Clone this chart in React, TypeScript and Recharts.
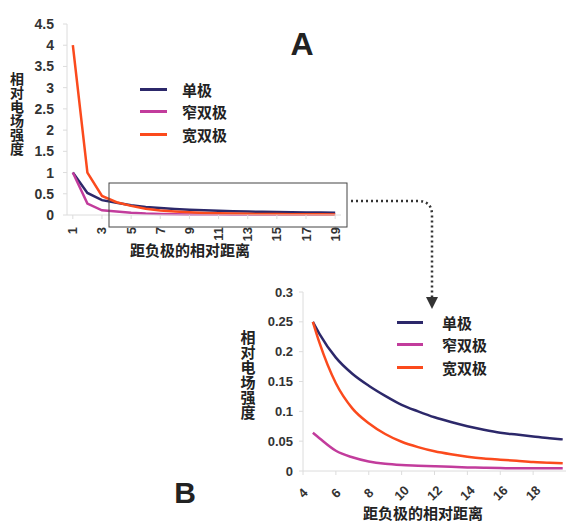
import { Legend, Line, LineChart, XAxis, YAxis } from "recharts";

const LATIN = '"Liberation Sans", Arial, sans-serif';
const CJK = '"Noto Sans CJK SC", "Noto Sans CJK JP", sans-serif';

const seriesKeys = ["unipolar", "narrow", "wide"];
const seriesNames = ["单极", "窄双极", "宽双极"];
const seriesColors = ["#2c286a", "#c23c9c", "#fb4a1d"];

const xTitle = "距负极的相对距离";
const yTitle = "相对电场强度";

// panel A: whole range
const distA = [1, 2, 3, 4, 5, 6, 7, 8, 9, 10, 11, 12, 13, 14, 15, 16, 17, 18, 19];
const unipolarA = [1.0, 0.52, 0.35, 0.29, 0.23, 0.19, 0.163, 0.143, 0.126, 0.111, 0.1, 0.09, 0.082, 0.075, 0.069, 0.064, 0.061, 0.058, 0.055];
const narrowA = [1.0, 0.27, 0.11, 0.085, 0.055, 0.034, 0.023, 0.016, 0.012, 0.01, 0.009, 0.008, 0.007, 0.006, 0.0055, 0.005, 0.0045, 0.0045, 0.0045];
const wideA = [4.0, 1.0, 0.45, 0.3, 0.215, 0.147, 0.105, 0.08, 0.062, 0.049, 0.04, 0.033, 0.028, 0.024, 0.021, 0.019, 0.017, 0.015, 0.014];
const xTicksA = [1, 3, 5, 7, 9, 11, 13, 15, 17, 19];
const yTicksA = [0, 0.5, 1, 1.5, 2, 2.5, 3, 3.5, 4, 4.5];

// panel B: zoomed tail
const distB = [4.6, 5, 6, 7, 8, 9, 10, 11, 12, 13, 14, 15, 16, 17, 18, 19, 19.8];
const unipolarB = [0.25, 0.23, 0.19, 0.163, 0.143, 0.126, 0.111, 0.1, 0.09, 0.082, 0.075, 0.069, 0.064, 0.061, 0.058, 0.055, 0.053];
const narrowB = [0.064, 0.055, 0.034, 0.023, 0.016, 0.012, 0.01, 0.009, 0.008, 0.007, 0.006, 0.0055, 0.005, 0.0045, 0.0045, 0.0045, 0.0045];
const wideB = [0.25, 0.215, 0.147, 0.105, 0.08, 0.062, 0.049, 0.04, 0.033, 0.028, 0.024, 0.021, 0.019, 0.017, 0.015, 0.014, 0.013];
const xTicksB = [4, 6, 8, 10, 12, 14, 16, 18];
const yTicksB = [0, 0.05, 0.1, 0.15, 0.2, 0.25, 0.3];

function rowsOf(dist: number[], cols: number[][]) {
  return dist.map((d, i) => ({
    dist: d,
    unipolar: cols[0][i],
    narrow: cols[1][i],
    wide: cols[2][i],
  }));
}

const rowsA = rowsOf(distA, [unipolarA, narrowA, wideA]);
const rowsB = rowsOf(distB, [unipolarB, narrowB, wideB]);

function TickUp({ x, y, payload }: any) {
  const ty = y + 6;
  return (
    <text
      x={x}
      y={ty}
      transform={`rotate(-90 ${x} ${ty})`}
      textAnchor="end"
      dominantBaseline="central"
      fontSize={13}
      fontWeight="bold"
      fontFamily={LATIN}
      fill="#333"
    >
      {payload.value}
    </text>
  );
}

function TickSlant({ x, y, payload }: any) {
  const ty = y + 16;
  return (
    <text
      x={x}
      y={ty}
      transform={`rotate(-45 ${x} ${ty})`}
      textAnchor="middle"
      dominantBaseline="central"
      fontSize={13}
      fontWeight="bold"
      fontFamily={LATIN}
      fill="#333"
    >
      {payload.value}
    </text>
  );
}

// upright CJK characters stacked top to bottom
function StackedTitle({ px, py, size }: { px: number; py: number; size: number }) {
  return (
    <text
      x={px}
      y={py}
      textAnchor="start"
      fontSize={size}
      fontWeight="bold"
      fontFamily={CJK}
      fill="#222"
      style={{ writingMode: "vertical-rl", textOrientation: "upright" } as any}
    >
      {yTitle}
    </text>
  );
}

function FlatTitle({ px, py }: { px: number; py: number }) {
  return (
    <text x={px} y={py} textAnchor="middle" fontSize={15} fontWeight="bold" fontFamily={CJK} fill="#222">
      {xTitle}
    </text>
  );
}

function LegendRows({ lineW, gap }: { lineW: number; gap: number }) {
  return (
    <div>
      {seriesNames.map((name, i) => (
        <div key={name} style={{ display: "flex", alignItems: "center", height: 22.5 }}>
          <span style={{ display: "inline-block", width: lineW, height: 3, background: seriesColors[i] }} />
          <span
            style={{
              marginLeft: gap,
              fontFamily: CJK,
              fontWeight: 700,
              fontSize: 15,
              color: "#222",
              lineHeight: 1,
            }}
          >
            {name}
          </span>
        </div>
      ))}
    </div>
  );
}

const yTickStyle = { fontSize: 14, fontWeight: "bold", fontFamily: LATIN, fill: "#333" };
const axisGrey = "#dcdcdc";

function series(lineType: "linear" | "monotone") {
  return seriesKeys.map((k, i) => (
    <Line
      key={k}
      dataKey={k}
      name={seriesNames[i]}
      type={lineType}
      stroke={seriesColors[i]}
      strokeWidth={2.5}
      dot={false}
      activeDot={false}
      isAnimationActive={false}
    />
  ));
}

export default function App() {
  return (
    <div
      style={{
        position: "absolute",
        left: 0,
        top: 0,
        width: 568,
        height: 524,
        overflow: "hidden",
        background: "#fff",
      }}
    >
      <style>{".recharts-surface{overflow:visible}"}</style>

      <div style={{ position: "absolute", left: 0, top: 0 }}>
        <LineChart width={360} height={262} data={rowsA} margin={{ top: 24, right: 19, bottom: 3, left: 10 }}>
          <XAxis
            dataKey="dist"
            type="number"
            domain={[0.6, 19.4]}
            ticks={xTicksA}
            interval={0}
            height={44}
            tickSize={4}
            tickMargin={2}
            stroke={axisGrey}
            tick={<TickUp />}
            label={{ content: () => <FlatTitle px={190} py={256} /> }}
          />
          <YAxis
            domain={[0, 4.5]}
            ticks={yTicksA}
            interval={0}
            width={57}
            tickSize={4}
            tickMargin={9}
            stroke={axisGrey}
            tick={yTickStyle}
            label={{ content: () => <StackedTitle px={17} py={72} size={14} /> }}
          />
          <Legend
            layout="vertical"
            align="center"
            verticalAlign="middle"
            wrapperStyle={{ left: 140, top: 78, width: "auto" }}
            content={() => <LegendRows lineW={27} gap={15} />}
          />
          {series("linear")}
        </LineChart>
      </div>

      <div style={{ position: "absolute", left: 230, top: 266 }}>
        <LineChart width={338} height={258} data={rowsB} margin={{ top: 26, right: 2, bottom: 9, left: 5 }}>
          <XAxis
            dataKey="dist"
            type="number"
            domain={[4, 20]}
            ticks={xTicksB}
            interval={0}
            height={44}
            tickSize={4}
            tickMargin={2}
            stroke={axisGrey}
            tick={<TickSlant />}
            label={{ content: () => <FlatTitle px={193} py={253} /> }}
          />
          <YAxis
            domain={[0, 0.3]}
            ticks={yTicksB}
            interval={0}
            width={68}
            tickSize={4}
            tickMargin={6}
            stroke={axisGrey}
            tick={{ ...yTickStyle, fontSize: 13 }}
            label={{ content: () => <StackedTitle px={18} py={64} size={15} /> }}
          />
          <Legend
            layout="vertical"
            align="center"
            verticalAlign="middle"
            wrapperStyle={{ left: 167, top: 45, width: "auto" }}
            content={() => <LegendRows lineW={26} gap={19} />}
          />
          {series("monotone")}
        </LineChart>
      </div>

      <svg
        width={568}
        height={524}
        style={{ position: "absolute", left: 0, top: 0, pointerEvents: "none" }}
      >
        <text x={302} y={55} textAnchor="middle" fontSize={32} fontWeight="bold" fontFamily={LATIN} fill="#222">
          A
        </text>
        <text x={185} y={503} textAnchor="middle" fontSize={30} fontWeight="bold" fontFamily={LATIN} fill="#222">
          B
        </text>
        <rect x={109} y={183} width={238} height={44} fill="none" stroke="#444" strokeWidth={1} />
        <path
          d="M351 201 H418 Q432 201 432 215 V297"
          fill="none"
          stroke="#333"
          strokeWidth={2.5}
          strokeDasharray="2 3"
        />
        <path d="M426 297 L438 297 L432 309 Z" fill="#333" />
      </svg>
    </div>
  );
}
